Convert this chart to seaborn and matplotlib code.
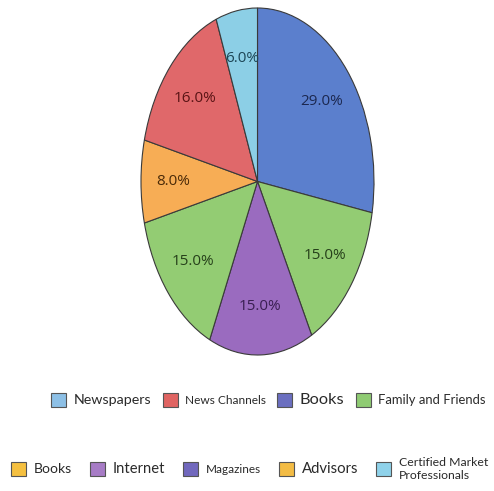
import matplotlib
matplotlib.use("Agg")
import matplotlib.pyplot as plt
from matplotlib.patches import Patch
import seaborn as sns

# Slice values (percent) and colours, clockwise from 12 o'clock
slice_values = [29.0, 15.0, 15.0, 15.0, 8.0, 16.0, 6.0]
slice_colors = ["#5b7fcd", "#93cc73", "#9a6bbf", "#93cc73", "#f7ad55", "#e0686a", "#8ccfe6"]
label_colors = ["#1c2850", "#26401a", "#3a1f52", "#26401a", "#4a2a08", "#5a1415", "#1d4656"]

# Legend rows
row1_labels = ["Newspapers", "News Channels", "Books", "Family and Friends"]
row1_colors = ["#8dc0e6", "#e06462", "#6b6fc0", "#8fcb73"]
row1_sizes = [10.3, 8.6, 11.8, 9.4]

row2_labels = ["Books", "Internet", "Magazines", "Advisors", "Certified Market\nProfessionals"]
row2_colors = ["#f5c040", "#a77cc6", "#7168bd", "#f3bc45", "#8fd2ea"]
row2_sizes = [10.1, 10.6, 8.5, 10.7, 8.8]

sns.set_style("white")
plt.rcParams["font.family"] = ["Lato", "DejaVu Sans"]

fig = plt.figure(figsize=(4.94, 4.91), dpi=100)
fig.patch.set_facecolor("white")
ax = fig.add_axes([141 / 494, (491 - 355) / 491, 233 / 494, 347 / 491])

palette = sns.color_palette(slice_colors)
total = sum(slice_values)

wedges, texts, autotexts = ax.pie(
    slice_values,
    colors=palette,
    startangle=90,
    counterclock=False,
    autopct=lambda p: f"{p * total / 100:.1f}%",
    pctdistance=0.72,
    wedgeprops=dict(edgecolor="#3a3a3a", linewidth=0.8),
    textprops=dict(fontsize=11, family=["Open Sans", "DejaVu Sans"]),
)
for t, c in zip(autotexts, label_colors):
    t.set_color(c)

# Stretch the pie to fill the tall axes box
ax.set_aspect("auto")
ax.set_xlim(-1.0, 1.0)
ax.set_ylim(-1.0, 1.0)
ax.axis("off")


def make_row(labels, colors, sizes, anchor, colspace):
    handles = [Patch(facecolor=c, edgecolor="#555555", linewidth=0.8) for c in colors]
    leg = fig.legend(
        handles, labels, loc="center", bbox_to_anchor=anchor, ncol=len(labels),
        frameon=False, fontsize=10, handlelength=1.08, handleheight=1.15,
        handletextpad=0.55, columnspacing=colspace, borderpad=0.0, borderaxespad=0.0,
    )
    for t, s in zip(leg.get_texts(), sizes):
        t.set_fontsize(s)
        t.set_color("#2a2a2a")
        t.set_linespacing(1.25)
    return leg


make_row(row1_labels, row1_colors, row1_sizes, (0.5435, 0.185), 0.8)
make_row(row2_labels, row2_colors, row2_sizes, (0.505, 0.045), 1.3)

fig.savefig("out.png", dpi=100, facecolor="white")
